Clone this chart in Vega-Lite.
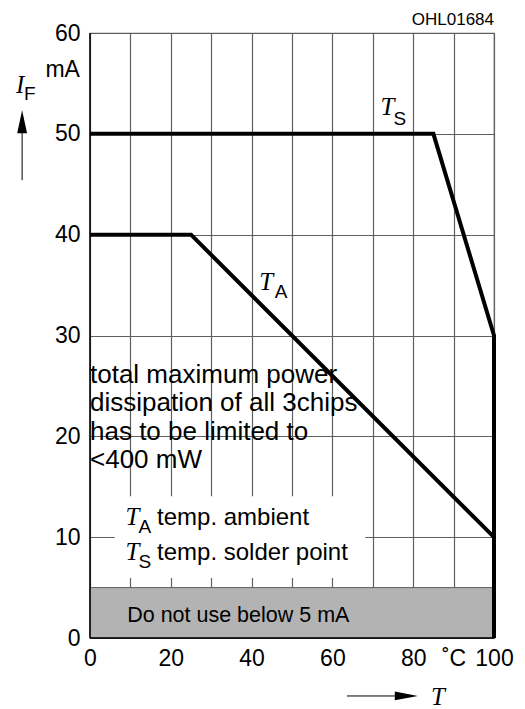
{
  "$schema": "https://vega.github.io/schema/vega-lite/v6.json",
  "width": 404,
  "height": 605,
  "autosize": "none",
  "padding": {"left": 90, "top": 33, "right": 31, "bottom": 71},
  "background": "white",
  "config": {"view": {"stroke": "#606060", "strokeWidth": 1.2}, "font": "Liberation Sans"},
  "datasets": {
    "curves": [
      {"series": "TS", "T": 0, "I": 50}, {"series": "TS", "T": 85, "I": 50}, {"series": "TS", "T": 100, "I": 30}, {"series": "TS", "T": 100, "I": 0},
      {"series": "TA", "T": 0, "I": 40}, {"series": "TA", "T": 25, "I": 40}, {"series": "TA", "T": 100, "I": 10}
    ],
    "zones": [
      {"zone": "below 5 mA", "T": 0, "T2": 100, "I": 0, "I2": 5},
      {"zone": "legend box", "T": 6.2, "T2": 68, "I": 6, "I2": 14}
    ],
    "frame": [
      {"side": "bottom", "T": 0, "T2": 100, "I": 0, "I2": 0},
      {"side": "left", "T": 0, "T2": 0, "I": 0, "I2": 60}
    ],
    "arrowLines": [
      {"axis": "I", "T": -16.8, "T2": -16.8, "I": 45.4, "I2": 50.5},
      {"axis": "T", "T": 63.6, "T2": 79, "I": -5.75, "I2": -5.75}
    ],
    "arrowHeads": [
      {"axis": "I", "T": -16.8, "I": 51.2},
      {"axis": "T", "T": 78.3, "I": -5.75}
    ],
    "symbols": [
      {"text": "T", "T": 73.6, "I": 51.9},
      {"text": "T", "T": 43.6, "I": 34.5},
      {"text": "T", "T": 10.5, "I": 11.2},
      {"text": "T", "T": 10.5, "I": 7.7},
      {"text": "I", "T": -17.3, "I": 54.05},
      {"text": "T", "T": 86.1, "I": -6.65}
    ],
    "subscripts": [
      {"text": "S", "T": 76.7, "I": 50.9},
      {"text": "A", "T": 47.3, "I": 33.7},
      {"text": "A", "T": 13.6, "I": 10.4},
      {"text": "S", "T": 13.6, "I": 6.9},
      {"text": "F", "T": -14.9, "I": 53.4}
    ],
    "legendText": [
      {"text": "temp. ambient", "T": 16.6, "I": 11.2},
      {"text": "temp. solder point", "T": 16.6, "I": 7.7}
    ],
    "note": [
      {"text": "total maximum power\ndissipation of all 3chips\nhas to be limited to\n<400 mW", "T": 0, "I": 25.3}
    ],
    "zoneText": [
      {"text": "Do not use below 5 mA", "T": 9.2, "I": 1.6}
    ],
    "unit": [
      {"text": "mA", "T": -2.5, "I": 55.6}
    ],
    "code": [
      {"text": "OHL01684", "T": 100, "I": 60.8}
    ]
  },
  "encoding": {
    "x": {"field": "T", "type": "quantitative", "scale": {"domain": [0, 100], "nice": false, "zero": false},
      "axis": {"values": [0, 10, 20, 30, 40, 50, 60, 70, 80, 90, 100], "labelExpr": "datum.value == 90 ? '˚C' : (datum.value % 20 == 0 ? datum.label : '')",
        "title": null, "ticks": false, "domain": false, "grid": true, "gridColor": "#606060", "gridWidth": 1.2, "gridOpacity": 1,
        "labelFontSize": 23, "labelColor": "black", "labelPadding": 9, "labelOverlap": false, "labelFlush": false}},
    "y": {"field": "I", "type": "quantitative", "scale": {"domain": [0, 60], "nice": false, "zero": false},
      "axis": {"values": [0, 10, 20, 30, 40, 50, 60], "title": null, "ticks": false, "domain": false, "grid": true, "gridColor": "#606060", "gridWidth": 1.2, "gridOpacity": 1,
        "labelFontSize": 23, "labelColor": "black", "labelPadding": 10, "labelOverlap": false, "labelFlush": false}}
  },
  "layer": [
    {
      "data": {"name": "zones"},
      "mark": {"type": "rect", "strokeWidth": 1},
      "encoding": {
        "x2": {"field": "T2"}, "y2": {"field": "I2"},
        "fill": {"field": "zone", "type": "nominal", "scale": {"domain": ["below 5 mA", "legend box"], "range": ["#b3b3b3", "white"]}, "legend": null},
        "stroke": {"field": "zone", "type": "nominal", "scale": {"domain": ["below 5 mA", "legend box"], "range": ["#606060", "white"]}, "legend": null}
      }
    },
    {
      "data": {"name": "note"},
      "mark": {"type": "text", "align": "left", "baseline": "alphabetic", "fontSize": 26, "lineHeight": 28.5, "lineBreak": "\n", "color": "black"},
      "encoding": {"text": {"field": "text"}}
    },
    {
      "data": {"name": "zoneText"},
      "mark": {"type": "text", "align": "left", "baseline": "alphabetic", "fontSize": 21.5, "color": "black"},
      "encoding": {"text": {"field": "text"}}
    },
    {
      "data": {"name": "legendText"},
      "mark": {"type": "text", "align": "left", "baseline": "alphabetic", "fontSize": 24, "color": "black"},
      "encoding": {"text": {"field": "text"}}
    },
    {
      "data": {"name": "symbols"},
      "mark": {"type": "text", "align": "center", "baseline": "alphabetic", "font": "Liberation Serif", "fontStyle": "italic", "fontSize": 25, "color": "black"},
      "encoding": {"text": {"field": "text"}}
    },
    {
      "data": {"name": "subscripts"},
      "mark": {"type": "text", "align": "center", "baseline": "alphabetic", "fontSize": 19, "color": "black"},
      "encoding": {"text": {"field": "text"}}
    },
    {
      "data": {"name": "unit"},
      "mark": {"type": "text", "align": "right", "baseline": "alphabetic", "fontSize": 23, "color": "black"},
      "encoding": {"text": {"field": "text"}}
    },
    {
      "data": {"name": "code"},
      "mark": {"type": "text", "align": "right", "baseline": "alphabetic", "fontSize": 17, "color": "black"},
      "encoding": {"text": {"field": "text"}}
    },
    {
      "data": {"name": "frame"},
      "mark": {"type": "rule", "color": "black", "strokeWidth": 1.5},
      "encoding": {"x2": {"field": "T2"}, "y2": {"field": "I2"}}
    },
    {
      "data": {"name": "arrowLines"},
      "mark": {"type": "rule", "color": "black", "strokeWidth": 1},
      "encoding": {"x2": {"field": "T2"}, "y2": {"field": "I2"}}
    },
    {
      "data": {"name": "arrowHeads"},
      "mark": {"type": "point", "filled": true, "color": "black", "opacity": 1, "size": 529, "strokeWidth": 0},
      "encoding": {
        "shape": {"field": "axis", "type": "nominal", "scale": {"domain": ["I", "T"], "range": ["M0,-1L0.43,1L-0.43,1Z", "M1,0L-1,0.38L-1,-0.38Z"]}, "legend": null}
      }
    },
    {
      "data": {"name": "curves"},
      "mark": {"type": "line", "color": "black", "strokeWidth": 4, "strokeJoin": "miter", "strokeCap": "butt"},
      "encoding": {"detail": {"field": "series", "type": "nominal"}}
    }
  ]
}
